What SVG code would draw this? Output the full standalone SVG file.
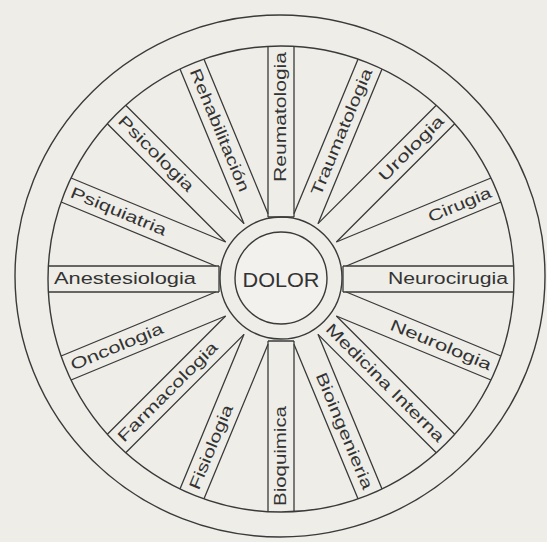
<svg xmlns="http://www.w3.org/2000/svg" width="547" height="542" viewBox="0 0 547 542">
<style>
.bg{fill:#eeede8}
.ring{fill:none;stroke:#3a3a3a;stroke-width:1.4}
.edge{stroke:#3a3a3a;stroke-width:1.3;fill:none}
.lbl{font-family:"Liberation Sans",Arial,sans-serif;font-size:16px;fill:#333}
.hub{font-family:"Liberation Sans",Arial,sans-serif;font-size:21px;fill:#333}
</style>
<rect class="bg" x="0" y="0" width="547" height="542"/>
<g id="wheel">
<ellipse class="ring" cx="280" cy="276" rx="265" ry="261"/>
<circle class="ring" cx="281" cy="279" r="233"/>
</g>
<g id="spokes">
<g id="spoke-neurocirugia" transform="translate(281,279) rotate(0)">
<path class="edge" d="M62,-13H232.6M62,13H232.6M62,-13V13"/>
<text class="lbl" x="227" y="5" text-anchor="end" textLength="120" lengthAdjust="spacingAndGlyphs">Neurocirugia</text>
</g>
<g id="spoke-cirugia" transform="translate(281,279) rotate(-22.5)">
<path class="edge" d="M65.3,-13H232.6M65.3,13H232.6"/>
<text class="lbl" x="227" y="5" text-anchor="end" textLength="67" lengthAdjust="spacingAndGlyphs">Cirugia</text>
</g>
<g id="spoke-urologia" transform="translate(281,279) rotate(-45)">
<path class="edge" d="M65.3,-13H232.6M65.3,13H232.6"/>
<text class="lbl" x="227" y="5" text-anchor="end" textLength="85" lengthAdjust="spacingAndGlyphs">Urologia</text>
</g>
<g id="spoke-traumatologia" transform="translate(281,279) rotate(-67.5)">
<path class="edge" d="M65.3,-13H232.6M65.3,13H232.6"/>
<text class="lbl" x="227" y="5" text-anchor="end" textLength="136" lengthAdjust="spacingAndGlyphs">Traumatologia</text>
</g>
<g id="spoke-reumatologia" transform="translate(281,279) rotate(-90)">
<path class="edge" d="M62,-13H232.6M62,13H232.6M62,-13V13"/>
<text class="lbl" x="227" y="5" text-anchor="end" textLength="130" lengthAdjust="spacingAndGlyphs">Reumatologia</text>
</g>
<g id="spoke-rehabilitacion" transform="translate(281,279) rotate(-112.5)">
<path class="edge" d="M65.3,-13H232.6M65.3,13H232.6"/>
<text class="lbl" transform="rotate(180)" x="-227" y="5" text-anchor="start" textLength="132" lengthAdjust="spacingAndGlyphs">Rehabilitación</text>
</g>
<g id="spoke-psicologia" transform="translate(281,279) rotate(-135)">
<path class="edge" d="M65.3,-13H232.6M65.3,13H232.6"/>
<text class="lbl" transform="rotate(180)" x="-227" y="5" text-anchor="start" textLength="100" lengthAdjust="spacingAndGlyphs">Psicologia</text>
</g>
<g id="spoke-psiquiatria" transform="translate(281,279) rotate(-157.5)">
<path class="edge" d="M65.3,-13H232.6M65.3,13H232.6"/>
<text class="lbl" transform="rotate(180)" x="-227" y="5" text-anchor="start" textLength="102" lengthAdjust="spacingAndGlyphs">Psiquiatria</text>
</g>
<g id="spoke-anestesiologia" transform="translate(281,279) rotate(-180)">
<path class="edge" d="M62,-13H232.6M62,13H232.6M62,-13V13"/>
<text class="lbl" transform="rotate(180)" x="-227" y="5" text-anchor="start" textLength="142" lengthAdjust="spacingAndGlyphs">Anestesiologia</text>
</g>
<g id="spoke-oncologia" transform="translate(281,279) rotate(-202.5)">
<path class="edge" d="M65.3,-13H232.6M65.3,13H232.6"/>
<text class="lbl" transform="rotate(180)" x="-227" y="5" text-anchor="start" textLength="99" lengthAdjust="spacingAndGlyphs">Oncologia</text>
</g>
<g id="spoke-farmacologia" transform="translate(281,279) rotate(-225)">
<path class="edge" d="M65.3,-13H232.6M65.3,13H232.6"/>
<text class="lbl" transform="rotate(180)" x="-227" y="5" text-anchor="start" textLength="134" lengthAdjust="spacingAndGlyphs">Farmacologia</text>
</g>
<g id="spoke-fisiologia" transform="translate(281,279) rotate(-247.5)">
<path class="edge" d="M65.3,-13H232.6M65.3,13H232.6"/>
<text class="lbl" transform="rotate(180)" x="-227" y="5" text-anchor="start" textLength="90" lengthAdjust="spacingAndGlyphs">Fisiologia</text>
</g>
<g id="spoke-bioquimica" transform="translate(281,279) rotate(-270)">
<path class="edge" d="M62,-13H232.6M62,13H232.6M62,-13V13"/>
<text class="lbl" transform="rotate(180)" x="-227" y="5" text-anchor="start" textLength="100" lengthAdjust="spacingAndGlyphs">Bioquimica</text>
</g>
<g id="spoke-bioingenieria" transform="translate(281,279) rotate(-292.5)">
<path class="edge" d="M65.3,-13H232.6M65.3,13H232.6"/>
<text class="lbl" x="227" y="5" text-anchor="end" textLength="125" lengthAdjust="spacingAndGlyphs">Bioingenieria</text>
</g>
<g id="spoke-medicina-interna" transform="translate(281,279) rotate(-315)">
<path class="edge" d="M65.3,-13H232.6M65.3,13H232.6"/>
<text class="lbl" x="227" y="5" text-anchor="end" textLength="160" lengthAdjust="spacingAndGlyphs">Medicina Interna</text>
</g>
<g id="spoke-neurologia" transform="translate(281,279) rotate(-337.5)">
<path class="edge" d="M65.3,-13H232.6M65.3,13H232.6"/>
<text class="lbl" x="227" y="5" text-anchor="end" textLength="108" lengthAdjust="spacingAndGlyphs">Neurologia</text>
</g>
</g>
<g id="hub-dolor">
<circle class="ring" cx="281" cy="278" r="61"/>
<circle class="ring" cx="281" cy="278" r="46" style="fill:#f2f1ed"/>
<text class="hub" x="281" y="286.5" text-anchor="middle" textLength="77" lengthAdjust="spacingAndGlyphs">DOLOR</text>
</g>
</svg>
